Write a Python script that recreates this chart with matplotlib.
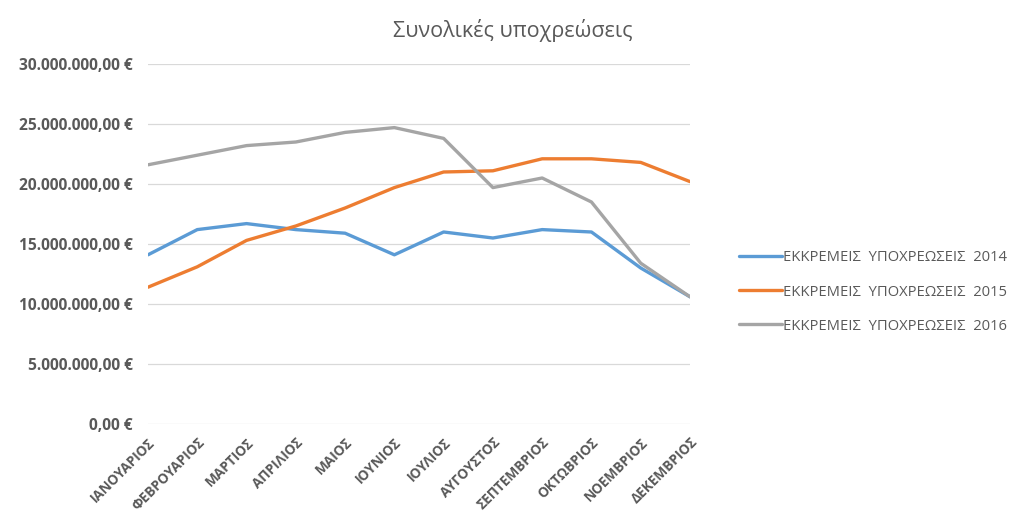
import matplotlib
matplotlib.use("Agg")
import matplotlib.pyplot as plt
from matplotlib.ticker import FuncFormatter, MultipleLocator

months = ["ΙΑΝΟΥΑΡΙΟΣ", "ΦΕΒΡΟΥΑΡΙΟΣ", "ΜΑΡΤΙΟΣ", "ΑΠΡΙΛΙΟΣ", "ΜΑΙΟΣ", "ΙΟΥΝΙΟΣ",
          "ΙΟΥΛΙΟΣ", "ΑΥΓΟΥΣΤΟΣ", "ΣΕΠΤΕΜΒΡΙΟΣ", "ΟΚΤΩΒΡΙΟΣ", "ΝΟΕΜΒΡΙΟΣ", "ΔΕΚΕΜΒΡΙΟΣ"]
v2014 = [14.1, 16.2, 16.7, 16.2, 15.9, 14.1, 16.0, 15.5, 16.2, 16.0, 13.0, 10.6]
v2015 = [11.4, 13.1, 15.3, 16.5, 18.0, 19.7, 21.0, 21.1, 22.1, 22.1, 21.8, 20.2]
v2016 = [21.6, 22.4, 23.2, 23.5, 24.3, 24.7, 23.8, 19.7, 20.5, 18.5, 13.4, 10.6]
labels = ["ΕΚΚΡΕΜΕΙΣ  ΥΠΟΧΡΕΩΣΕΙΣ  2014", "ΕΚΚΡΕΜΕΙΣ  ΥΠΟΧΡΕΩΣΕΙΣ  2015",
          "ΕΚΚΡΕΜΕΙΣ  ΥΠΟΧΡΕΩΣΕΙΣ  2016"]
colors = ["#5B9BD5", "#ED7D31", "#A5A5A5"]
title = "Συνολικές υποχρεώσεις"

plt.rcParams['font.family'] = ['Open Sans', 'DejaVu Sans']
txt = "#595959"

W, H = 1013, 523
fig = plt.figure(figsize=(W / 100, H / 100), dpi=100)
ax = fig.add_axes([148 / W, 1 - 424 / H, (690 - 148) / W, (424 - 64) / H])

x = list(range(len(months)))
for vals, lab, c in zip([v2014, v2015, v2016], labels, colors):
    ax.plot(x, [v * 1e6 for v in vals], color=c, lw=2.4, label=lab, solid_capstyle='round')

ax.set_xlim(0, len(months) - 1)
ax.set_ylim(0, 30e6)
ax.yaxis.set_major_locator(MultipleLocator(5e6))

def fmt(v, pos):
    s = f"{int(round(v)):,}".replace(",", ".")
    return s + ",00 €"

ax.yaxis.set_major_formatter(FuncFormatter(fmt))
ax.grid(axis='y', color="#D9D9D9", lw=0.9)
ax.set_axisbelow(True)
for s in ax.spines.values():
    s.set_visible(False)
ax.tick_params(axis='both', length=0, colors=txt)
ax.tick_params(axis='y', pad=11)
ax.set_xticks(x)
ax.set_xticklabels(months, rotation=45, ha='right', rotation_mode='anchor',
                   fontsize=9.8, fontweight='bold', color=txt)
for t in ax.get_yticklabels():
    t.set_fontsize(11.2)
    t.set_fontweight('bold')
    t.set_color(txt)
ax.tick_params(axis='x', pad=8)

fig.text(513 / W, 1 - 30 / H, title, ha='center', va='center', fontsize=15.5, color=txt)

leg = fig.legend(loc='center left', bbox_to_anchor=(726 / W, 1 - 292 / H), frameon=False,
                 fontsize=10.6, handlelength=2.9, handletextpad=0.1, labelspacing=1.3,
                 labelcolor=txt)

fig.savefig("out.png", dpi=100)
